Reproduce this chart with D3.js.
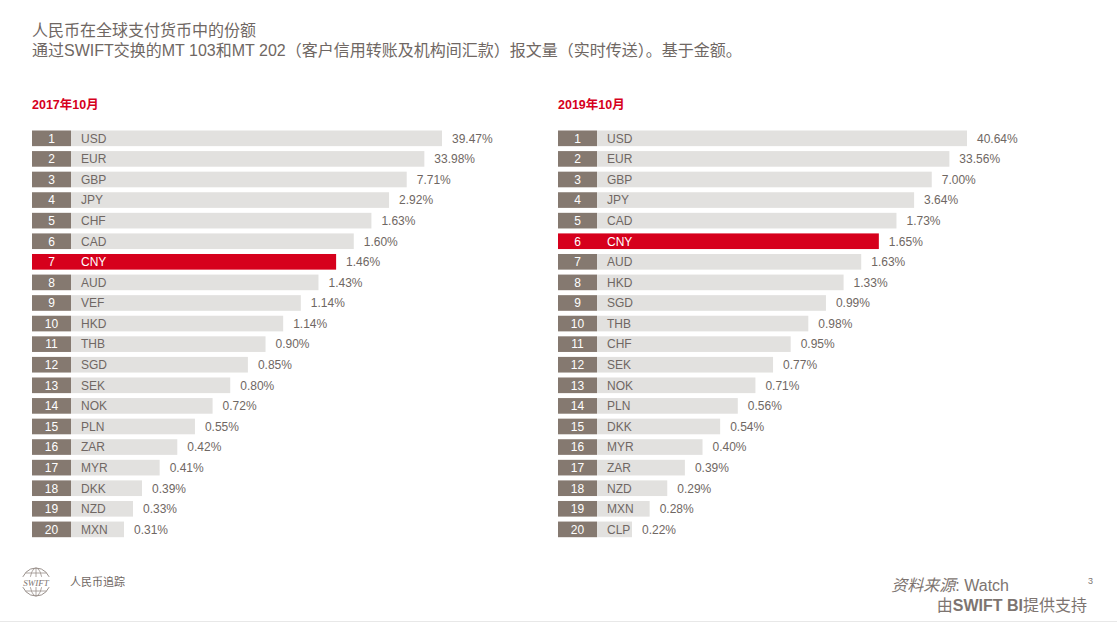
<!DOCTYPE html>
<html>
<head>
<meta charset="utf-8">
<script src="https://cdn.jsdelivr.net/npm/d3@7"></script>
<style>
  body { margin: 0; background: #fff; }
  text { font-family: "Liberation Sans", Arial, "Noto Sans CJK SC", sans-serif; }
</style>
</head>
<body>
<div id="chart"></div>
<script>
// data
const ranks = d3.range(1, 21);
const currencies2017 = ["USD","EUR","GBP","JPY","CHF","CAD","CNY","AUD","VEF","HKD","THB","SGD","SEK","NOK","PLN","ZAR","MYR","DKK","NZD","MXN"];
const shares2017 = [39.47,33.98,7.71,2.92,1.63,1.60,1.46,1.43,1.14,1.14,0.90,0.85,0.80,0.72,0.55,0.42,0.41,0.39,0.33,0.31];
const currencies2019 = ["USD","EUR","GBP","JPY","CAD","CNY","AUD","HKD","SGD","THB","CHF","SEK","NOK","PLN","DKK","MYR","ZAR","NZD","MXN","CLP"];
const shares2019 = [40.64,33.56,7.00,3.64,1.73,1.65,1.63,1.33,0.99,0.98,0.95,0.77,0.71,0.56,0.54,0.40,0.39,0.29,0.28,0.22];
const panelTitles = ["2017年10月", "2019年10月"];
const highlight = "CNY";

const W = 1117, H = 623;
const grey = "#857970", light = "#e2e1df", red = "#d6001c", txt = "#6f6763";

const svg = d3.select("#chart").append("svg")
    .attr("width", W)
    .attr("height", H);

// titles
svg.append("text")
    .attr("x", 32).attr("y", 36)
    .style("font-size", "16px").style("fill", txt)
    .text("人民币在全球支付货币中的份额");
svg.append("text")
    .attr("x", 32).attr("y", 56)
    .style("font-size", "16px").style("fill", txt)
    .text("通过SWIFT交换的MT 103和MT 202（客户信用转账及机构间汇款）报文量（实时传送）。基于金额。");

var y = d3.scaleBand()
    .domain(ranks)
    .range([130.5, 537.2])
    .paddingInner(0.24)
    .paddingOuter(0);

// bar length goes by rank, not by value (as in the original slide)
var wLeft = d3.scaleLinear().domain([1, 18, 20]).range([371, 71, 53]);
var wRight = d3.scaleLinear().domain([1, 20]).range([370, 35]);

const panels = [
  {x0: 32, names: currencies2017, vals: shares2017, w: wLeft, title: panelTitles[0]},
  {x0: 558, names: currencies2019, vals: shares2019, w: wRight, title: panelTitles[1]}
];

const boxW = 39;

panels.forEach(function(p) {
  var rows = ranks.map(function(r, i) { return {rank: r, cur: p.names[i], val: p.vals[i]}; });
  var g = svg.append("g").attr("transform", "translate(" + p.x0 + ",0)");

  g.append("text")
    .attr("x", 0).attr("y", 109)
    .style("font-size", "12.5px").style("font-weight", "bold").style("fill", red)
    .text(p.title);

  var row = g.selectAll(".row")
    .data(rows)
    .enter().append("g")
    .attr("class", "row")
    .attr("transform", function(d) { return "translate(0," + y(d.rank) + ")"; });

  row.append("rect")
    .attr("x", boxW)
    .attr("width", function(d) { return p.w(d.rank); })
    .attr("height", y.bandwidth())
    .attr("fill", function(d) { return d.cur === highlight ? red : light; });

  row.append("rect")
    .attr("x", 0)
    .attr("width", boxW)
    .attr("height", y.bandwidth())
    .attr("fill", function(d) { return d.cur === highlight ? red : grey; });

  row.append("text")
    .attr("x", boxW / 2)
    .attr("y", y.bandwidth() / 2)
    .attr("dy", "0.36em")
    .attr("text-anchor", "middle")
    .style("font-size", "12px").style("fill", "#fff")
    .text(function(d) { return d.rank; });

  row.append("text")
    .attr("x", boxW + 10)
    .attr("y", y.bandwidth() / 2)
    .attr("dy", "0.36em")
    .style("font-size", "12px")
    .style("fill", function(d) { return d.cur === highlight ? "#fff" : txt; })
    .text(function(d) { return d.cur; });

  row.append("text")
    .attr("x", function(d) { return boxW + p.w(d.rank) + 10; })
    .attr("y", y.bandwidth() / 2)
    .attr("dy", "0.36em")
    .style("font-size", "12px").style("fill", txt)
    .text(function(d) { return d.val.toFixed(2) + "%"; });
});

// footer
var logo = svg.append("g").attr("transform", "translate(36,582)");
logo.append("circle").attr("r", 14).attr("fill", "none").attr("stroke", "#9a918c").attr("stroke-width", 1);
logo.append("ellipse").attr("rx", 6).attr("ry", 14).attr("fill", "none").attr("stroke", "#9a918c").attr("stroke-width", 0.8);
logo.append("line").attr("x1", 0).attr("x2", 0).attr("y1", -14).attr("y2", 14).attr("stroke", "#9a918c").attr("stroke-width", 0.8);
[-9, 9].forEach(function(v) {
  logo.append("line").attr("x1", -10.5).attr("x2", 10.5).attr("y1", v).attr("y2", v).attr("stroke", "#9a918c").attr("stroke-width", 0.8);
});
logo.append("rect").attr("x", -15).attr("y", -5).attr("width", 30).attr("height", 10).attr("fill", "#fff");
logo.append("text")
    .attr("text-anchor", "middle").attr("y", 3.5)
    .style("font-size", "9px").style("font-style", "italic").style("font-family", "'Liberation Serif', serif")
    .style("fill", "#7d7470")
    .text("SWIFT");

svg.append("text")
    .attr("x", 70).attr("y", 586)
    .style("font-size", "11px").style("fill", txt)
    .text("人民币追踪");

var src = svg.append("text")
    .attr("x", 1009).attr("y", 591)
    .attr("text-anchor", "end")
    .style("font-size", "16px").style("fill", "#7d7470");
src.append("tspan").style("font-style", "italic").text("资料来源");
src.append("tspan").text(":  Watch");

var by = svg.append("text")
    .attr("x", 1087).attr("y", 611)
    .attr("text-anchor", "end")
    .style("font-size", "16px").style("fill", "#7d7470");
by.append("tspan").text("由");
by.append("tspan").style("font-weight", "bold").text("SWIFT BI");
by.append("tspan").text("提供支持");

svg.append("text")
    .attr("x", 1088).attr("y", 584)
    .style("font-size", "9px").style("fill", "#7d7470")
    .text("3");

svg.append("line")
    .attr("x1", 0).attr("x2", W)
    .attr("y1", 621.5).attr("y2", 621.5)
    .attr("stroke", "#e8e8e8").attr("stroke-width", 1);
</script>
</body>
</html>
